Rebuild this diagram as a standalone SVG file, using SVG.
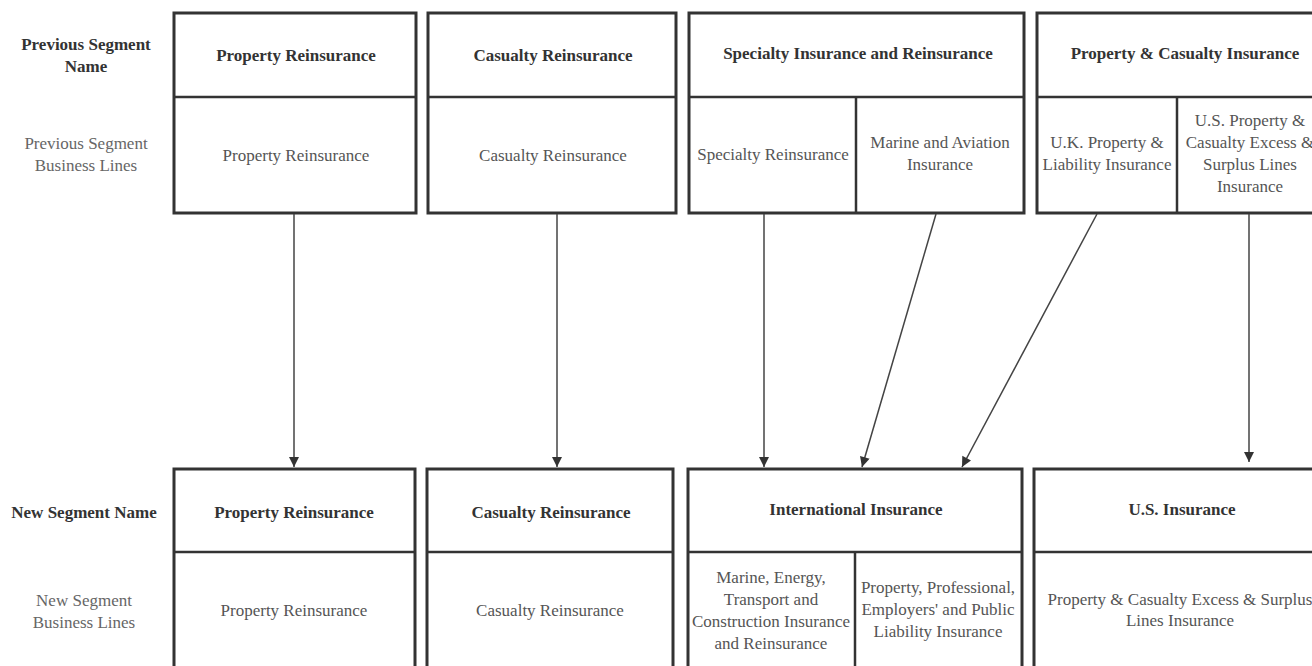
<svg xmlns="http://www.w3.org/2000/svg" width="1312" height="666" viewBox="0 0 1312 666">
<style>
.box{fill:#fff;stroke:#333;stroke-width:3}
.div{stroke:#333;stroke-width:2.5;fill:none}
.h{font-family:"Liberation Serif","Times New Roman",serif;font-size:17px;font-weight:bold;fill:#333;text-anchor:middle}
.t{font-family:"Liberation Serif","Times New Roman",serif;font-size:17px;fill:#555;text-anchor:middle}
.lab{font-family:"Liberation Serif","Times New Roman",serif;font-size:17px;text-anchor:middle}
.c{stroke:#444;stroke-width:1.5;fill:none}
</style>
<defs>
<marker id="ah" viewBox="0 0 10 10" refX="10" refY="5" markerWidth="12" markerHeight="10" markerUnits="userSpaceOnUse" orient="auto">
<path d="M0,0 L10,5 L0,10 z" fill="#333"/>
</marker>
</defs>
<rect width="1312" height="666" fill="#fff"/>

<g id="row-labels">
<text class="lab" x="86" y="50" font-weight="bold" fill="#333">Previous Segment</text>
<text class="lab" x="86" y="72" font-weight="bold" fill="#333">Name</text>
<text class="lab" x="86" y="149" fill="#666">Previous Segment</text>
<text class="lab" x="86" y="171" fill="#666">Business Lines</text>
<text class="lab" x="84" y="518" font-weight="bold" fill="#333">New Segment Name</text>
<text class="lab" x="84" y="606" fill="#666">New Segment</text>
<text class="lab" x="84" y="628" fill="#666">Business Lines</text>
</g>

<g id="prev-property">
<rect class="box" x="174" y="13" width="242" height="200"/>
<line class="div" x1="174" y1="97" x2="416" y2="97"/>
<text class="h" x="296" y="61">Property Reinsurance</text>
<text class="t" x="296" y="161">Property Reinsurance</text>
</g>

<g id="prev-casualty">
<rect class="box" x="428" y="13" width="248" height="200"/>
<line class="div" x1="428" y1="97" x2="676" y2="97"/>
<text class="h" x="553" y="61">Casualty Reinsurance</text>
<text class="t" x="553" y="161">Casualty Reinsurance</text>
</g>

<g id="prev-specialty">
<rect class="box" x="689" y="13" width="335" height="200"/>
<line class="div" x1="689" y1="97" x2="1024" y2="97"/>
<line class="div" x1="856" y1="97" x2="856" y2="213"/>
<text class="h" x="858" y="59">Specialty Insurance and Reinsurance</text>
<text class="t" x="773" y="160">Specialty Reinsurance</text>
<text class="t" x="940" y="148">Marine and Aviation</text>
<text class="t" x="940" y="170">Insurance</text>
</g>

<g id="prev-pc">
<rect class="box" x="1037" y="13" width="300" height="200"/>
<line class="div" x1="1037" y1="97" x2="1337" y2="97"/>
<line class="div" x1="1177" y1="97" x2="1177" y2="213"/>
<text class="h" x="1185" y="59">Property &amp; Casualty Insurance</text>
<text class="t" x="1107" y="148">U.K. Property &amp;</text>
<text class="t" x="1107" y="170">Liability Insurance</text>
<text class="t" x="1250" y="126">U.S. Property &amp;</text>
<text class="t" x="1250" y="148">Casualty Excess &amp;</text>
<text class="t" x="1250" y="170">Surplus Lines</text>
<text class="t" x="1250" y="192">Insurance</text>
</g>

<g id="new-property">
<rect class="box" x="174" y="469" width="241" height="220"/>
<line class="div" x1="174" y1="552" x2="415" y2="552"/>
<text class="h" x="294" y="518">Property Reinsurance</text>
<text class="t" x="294" y="616">Property Reinsurance</text>
</g>

<g id="new-casualty">
<rect class="box" x="427" y="469" width="246" height="220"/>
<line class="div" x1="427" y1="552" x2="673" y2="552"/>
<text class="h" x="551" y="518">Casualty Reinsurance</text>
<text class="t" x="550" y="616">Casualty Reinsurance</text>
</g>

<g id="new-international">
<rect class="box" x="688" y="469" width="334" height="220"/>
<line class="div" x1="688" y1="552" x2="1022" y2="552"/>
<line class="div" x1="855" y1="552" x2="855" y2="689"/>
<text class="h" x="856" y="515">International Insurance</text>
<text class="t" x="771" y="583">Marine, Energy,</text>
<text class="t" x="771" y="605">Transport and</text>
<text class="t" x="771" y="627">Construction Insurance</text>
<text class="t" x="771" y="649">and Reinsurance</text>
<text class="t" x="938" y="593">Property, Professional,</text>
<text class="t" x="938" y="615">Employers' and Public</text>
<text class="t" x="938" y="637">Liability Insurance</text>
</g>

<g id="new-us">
<rect class="box" x="1034" y="469" width="300" height="220"/>
<line class="div" x1="1034" y1="552" x2="1334" y2="552"/>
<text class="h" x="1182" y="515">U.S. Insurance</text>
<text class="t" x="1180" y="605">Property &amp; Casualty Excess &amp; Surplus</text>
<text class="t" x="1180" y="626">Lines Insurance</text>
</g>

<g id="connectors">
<line class="c" x1="294" y1="214" x2="294" y2="467" marker-end="url(#ah)"/>
<line class="c" x1="557" y1="214" x2="557" y2="467" marker-end="url(#ah)"/>
<line class="c" x1="764" y1="214" x2="764" y2="467" marker-end="url(#ah)"/>
<line class="c" x1="936" y1="214" x2="862" y2="467" marker-end="url(#ah)"/>
<line class="c" x1="1097" y1="214" x2="962" y2="467" marker-end="url(#ah)"/>
<line class="c" x1="1249" y1="214" x2="1249" y2="462" marker-end="url(#ah)"/>
</g>
</svg>
